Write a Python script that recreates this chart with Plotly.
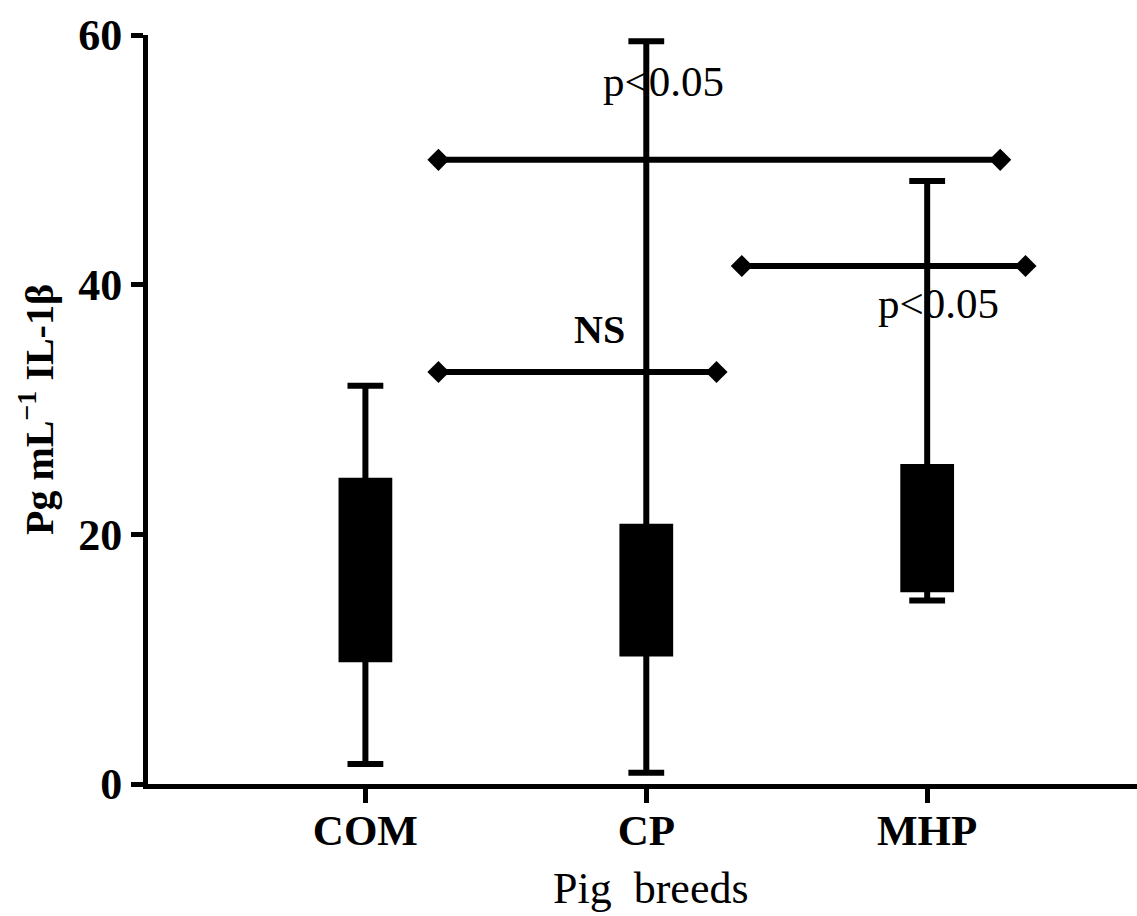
import plotly.graph_objects as go

# ---- data ----
breeds = ["COM", "CP", "MHP"]
lower_whisker = [1.6, 0.9, 14.7]
q1_vals = [10.0, 10.45, 15.6]
median_vals = [16.0, 14.0, 19.0]   # hidden inside the solid black boxes
q3_vals = [24.3, 20.6, 25.4]
upper_whisker = [31.9, 59.5, 48.3]

# comparison brackets (x in category units, y in pg/mL)
bracket_y = [50.0, 41.5, 33.0]
bracket_x0 = [0.26, 1.34, 0.26]
bracket_x1 = [2.26, 2.35, 1.25]
bracket_labels = ["p&lt;0.05", "p&lt;0.05", "NS"]
label_x = [1.06, 2.04, 0.835]
label_y = [56.3, 38.5, 36.4]
label_bold = [False, False, True]

y_ticks = [0, 20, 40, 60]
x_title = "Pig\u00a0\u00a0breeds"
y_title = "<b>Pg mL<sup>−1</sup> IL-1β</b>"

SERIF = "Liberation Serif, Times New Roman, serif"
positions = list(range(len(breeds)))

fig = go.Figure()

fig.add_trace(go.Box(
    x=positions,
    q1=q1_vals, median=median_vals, q3=q3_vals,
    lowerfence=lower_whisker, upperfence=upper_whisker,
    fillcolor="black",
    line=dict(color="black", width=6),
    width=0.17,
    whiskerwidth=0.75,
    boxpoints=False,
    hoverinfo="skip",
    showlegend=False,
))

for y, x0, x1 in zip(bracket_y, bracket_x0, bracket_x1):
    fig.add_trace(go.Scatter(
        x=[x0, x1], y=[y, y],
        mode="lines+markers",
        line=dict(color="black", width=6),
        marker=dict(symbol="diamond", size=17, color="black"),
        hoverinfo="skip",
        showlegend=False,
        cliponaxis=False,
    ))

for txt, x, y, b in zip(bracket_labels, label_x, label_y, label_bold):
    fig.add_annotation(
        x=x, y=y, xref="x", yref="y",
        text=f"<b>{txt}</b>" if b else txt,
        showarrow=False,
        xanchor="center", yanchor="middle",
        font=dict(family=SERIF, size=40 if b else 43, color="black"),
    )

# x-axis title placed as an annotation below the tick labels
fig.add_annotation(
    x=1.015, y=-0.139, xref="x", yref="paper",
    text=x_title, showarrow=False,
    xanchor="center", yanchor="middle",
    font=dict(family=SERIF, size=44, color="black"),
)

fig.update_layout(
    width=1137, height=916,
    margin=dict(l=148, r=0, t=35, b=132),
    paper_bgcolor="white", plot_bgcolor="white",
    font=dict(family=SERIF, color="black"),
    showlegend=False,
)

fig.update_xaxes(
    automargin=False,
    range=[-0.774, 2.747],
    tickvals=positions, ticktext=[f"<b>{b}</b>" for b in breeds],
    tickfont=dict(family=SERIF, size=43, color="black"),
    ticklabelstandoff=-10,
    showline=True, linewidth=5, linecolor="black",
    ticks="outside", ticklen=14, tickwidth=5, tickcolor="black",
    showgrid=False, zeroline=False,
)

fig.update_yaxes(
    automargin=False,
    range=[0, 60],
    tickvals=y_ticks, ticktext=[f"<b>{v}</b>" for v in y_ticks],
    tickfont=dict(family=SERIF, size=44, color="black"),
    showline=True, linewidth=5, linecolor="black",
    ticks="outside", ticklen=12, tickwidth=5, tickcolor="black",
    showgrid=False, zeroline=False,
    title=dict(text=y_title, font=dict(family=SERIF, size=40, color="black"), standoff=14),
)

fig.write_html(
    "out.html",
    config={"displayModeBar": False, "staticPlot": True},
    post_script="document.body.style.margin='0';document.body.style.overflow='hidden';",
)
